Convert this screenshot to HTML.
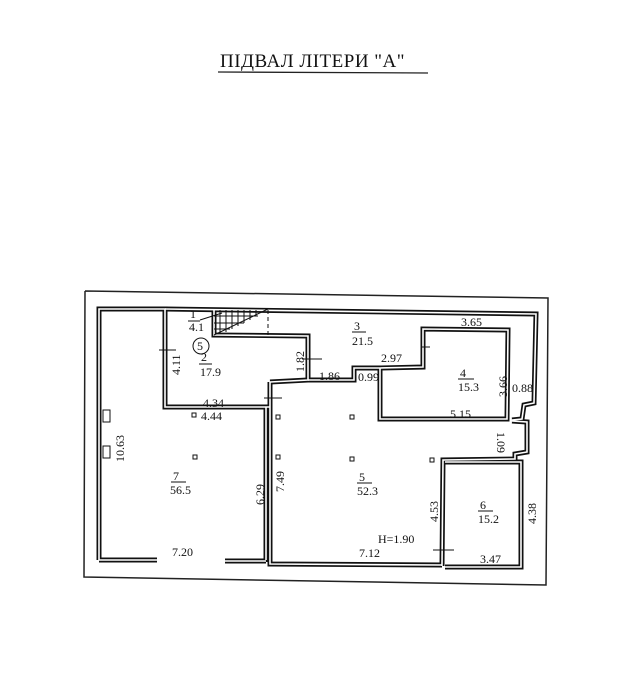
<!DOCTYPE html>
<html><head><meta charset="utf-8"><style>
html,body{margin:0;padding:0;background:#fff;}
svg{display:block;}
text{font-family:"Liberation Serif",serif;fill:#111;}
</style></head><body>
<svg width="635" height="699" viewBox="0 0 635 699" xmlns="http://www.w3.org/2000/svg">
<text x="220" y="67" font-size="19" letter-spacing="0.5">ПІДВАЛ  ЛІТЕРИ   "А"</text>
<line x1="218" y1="72" x2="428" y2="73" stroke="#222" stroke-width="1.3"/>

<polyline points="85,291 548,298 546,585 84,577 85,291" fill="none" stroke="#222" stroke-width="1.5"/>

<g fill="none" stroke="#111" stroke-width="5" stroke-linejoin="miter">
<polyline points="99,560 99,309 165,309 165,407 270,407"/>
<polyline points="99,560 157,560"/>
<polyline points="225,561 266,561"/>
<polyline points="266,405 266,562"/>
<polyline points="270,382 270,564 442,565"/>
<polyline points="165,309 536,314 534,403 524,405 522,419 512,420"/>
<polyline points="214,309 214,335 308,336 308,380 270,382"/>
<polyline points="308,380 354,380 354,368 380,368"/>
<polyline points="380,368 423,367 423,329 508,330 507,419 380,419 380,368"/>
<polyline points="512,421 527,422 527,452 515,454 515,459 443,460 442,566"/>
<polyline points="445,462 521,462 521,567 445,567"/>
</g>
<g fill="none" stroke="#fff" stroke-width="1.6">
<polyline points="99,560 99,309 165,309 165,407 270,407"/>
<polyline points="99,560 157,560"/>
<polyline points="225,561 266,561"/>
<polyline points="266,407 266,560"/>
<polyline points="270,382 270,564 442,565"/>
<polyline points="165,309 536,314 534,403 524,405 522,419 512,420"/>
<polyline points="214,309 214,335 308,336 308,380 270,382"/>
<polyline points="308,380 354,380 354,368 380,368"/>
<polyline points="380,368 423,367 423,329 508,330 507,419 380,419 380,368"/>
<polyline points="512,421 527,422 527,452 515,454 515,459 443,460 442,566"/>
<polyline points="445,462 521,462 521,567 445,567"/>
</g>
<g stroke="#111" stroke-width="1" fill="none">
<line x1="214" y1="335" x2="268" y2="309"/>
<line x1="220" y1="310" x2="220" y2="333"/>
<line x1="226" y1="310" x2="226" y2="332"/>
<line x1="232" y1="310" x2="232" y2="329"/>
<line x1="238" y1="310" x2="238" y2="326"/>
<line x1="244" y1="310" x2="244" y2="323"/>
<line x1="250" y1="310" x2="250" y2="320"/>
<line x1="256" y1="310" x2="256" y2="316"/>
<line x1="214" y1="316" x2="258" y2="316"/>
<line x1="214" y1="323" x2="244" y2="323"/>
<line x1="214" y1="329" x2="230" y2="329"/>
<line x1="268" y1="310" x2="268" y2="336" stroke-dasharray="4,3"/>
<line x1="200" y1="320" x2="222" y2="313"/>
<circle cx="201" cy="346" r="8"/>
<line x1="159" y1="350" x2="176" y2="350"/>
<line x1="302" y1="359" x2="322" y2="359"/>
<line x1="264" y1="398" x2="282" y2="398"/>
<line x1="421" y1="347" x2="430" y2="347"/>
<line x1="433" y1="550" x2="454" y2="550"/>
<rect x="103" y="410" width="7" height="12" fill="#fff"/>
<rect x="103" y="446" width="7" height="12" fill="#fff"/>
<rect x="192" y="413" width="4" height="4"/>
<rect x="193" y="455" width="4" height="4"/>
<rect x="276" y="415" width="4" height="4"/>
<rect x="350" y="415" width="4" height="4"/>
<rect x="276" y="455" width="4" height="4"/>
<rect x="350" y="457" width="4" height="4"/>
<rect x="430" y="458" width="4" height="4"/>
<line x1="188" y1="321" x2="200" y2="321"/>
<line x1="199" y1="364" x2="212" y2="364"/>
<line x1="352" y1="332" x2="366" y2="332"/>
<line x1="458" y1="379" x2="474" y2="379"/>
<line x1="171" y1="482" x2="186" y2="482"/>
<line x1="357" y1="483" x2="372" y2="483"/>
<line x1="478" y1="511" x2="493" y2="511"/>
</g>
<g font-size="12">
<text x="190" y="318">1</text><text x="189" y="331">4.1</text>
<text x="197" y="350" font-size="12">5</text>
<text x="201" y="361">2</text><text x="200" y="376">17.9</text>
<text x="354" y="330">3</text><text x="352" y="345">21.5</text>
<text x="461" y="326">3.65</text>
<text x="381" y="362">2.97</text>
<text x="319" y="380">1.86</text>
<text x="358" y="381">0.99</text>
<text x="460" y="377">4</text><text x="458" y="391">15.3</text>
<text x="512" y="392">0.88</text>
<text x="450" y="418">5.15</text>
<text x="203" y="407">4.34</text>
<text x="201" y="420">4.44</text>
<text x="173" y="480">7</text><text x="170" y="494">56.5</text>
<text x="359" y="481">5</text><text x="357" y="495">52.3</text>
<text x="480" y="509">6</text><text x="478" y="523">15.2</text>
<text x="378" y="543">H=1.90</text>
<text x="172" y="556">7.20</text>
<text x="359" y="557">7.12</text>
<text x="480" y="563">3.47</text>
</g>
<g font-size="12">
<text transform="translate(180,375) rotate(-90)">4.11</text>
<text transform="translate(304,372) rotate(-90)">1.82</text>
<text transform="translate(124,462) rotate(-90)">10.63</text>
<text transform="translate(264,505) rotate(-90)">6.29</text>
<text transform="translate(284,492) rotate(-90)">7.49</text>
<text transform="translate(438,522) rotate(-90)">4.53</text>
<text transform="translate(507,397) rotate(-90)">3.66</text>
<text transform="translate(497,432) rotate(90)">1.09</text>
<text transform="translate(536,524) rotate(-90)">4.38</text>
</g>
</svg>
</body></html>
